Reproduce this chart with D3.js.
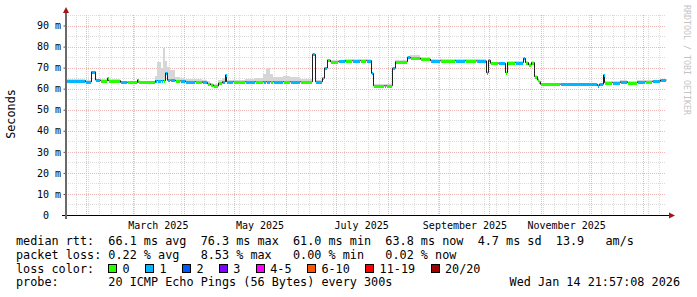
<!DOCTYPE html>
<html>
<head>
<meta charset="utf-8">
<script src="https://cdn.jsdelivr.net/npm/d3@7"></script>
<style>
body { margin: 0; background: #fff; }
svg text { font-family: "DejaVu Sans Mono", monospace; white-space: pre; }
</style>
</head>
<body>
<script>
// time window: 360 days ending at the graph timestamp
var endTime = new Date(Date.UTC(2026, 0, 14, 21, 57, 8));
var spanDays = 360;

// median rtt as steps: day offset (from window start) where each step begins
var dayOffset = [0, 11.4, 15, 17.4, 20.4, 24.6, 25.2, 32.4, 36.6, 42.6, 43.2, 53.4, 54.6, 57, 58.2,
  59.4, 60.6, 62.4, 65.4, 68.4, 71.4, 77.4, 81.6, 84.6, 86.4, 88.2, 91.2, 93.6, 95.4, 96,
  100.2, 107.4, 113.4, 118.2, 120, 122.4, 124.2, 130.2, 134.4, 140.4, 147.6, 149.4, 153.6, 154.8, 156.6,
  158.4, 163.2, 167.4, 171.6, 176.4, 180, 183, 184.2, 190.8, 192, 195.6, 197.4, 204.6, 206.4, 212.4,
  218.4, 224.4, 233.4, 239.4, 246, 252, 253.2, 254.4, 259.2, 263.4, 264.6, 269.4, 274.2, 275.4, 277.2,
  279, 280.8, 282.6, 283.2, 284.4, 296.4, 318.6, 319.8, 322.2, 322.8, 327.6, 332.4, 336.6, 342.6, 347.4,
  351.6, 356.4];
var medianMs = [63.8, 63.2, 68.0, 64.1, 63.8, 65.0, 63.8, 63.0, 63.0, 64.2, 63.0, 63.8, 63.8, 63.8, 63.8,
  67.5, 64.0, 64.0, 63.7, 63.7, 63.3, 63.3, 63.0, 62.3, 61.8, 61.3, 62.7, 63.3, 66.5, 63.3,
  63.3, 63.3, 63.3, 63.3, 63.3, 63.3, 63.3, 63.3, 63.3, 63.3, 76.3, 63.3, 65.0, 69.8, 73.6,
  72.8, 73.0, 73.3, 73.3, 73.3, 73.3, 67.3, 61.4, 61.4, 61.4, 69.7, 72.8, 74.9, 74.5, 74.0,
  73.3, 73.3, 73.3, 73.2, 73.2, 67.6, 73.5, 72.1, 72.1, 67.6, 72.4, 72.4, 74.4, 72.4, 71.3,
  72.4, 65.7, 64.1, 63.3, 62.1, 62.1, 61.5, 62.1, 66.5, 62.9, 62.9, 63.3, 62.9, 63.3, 63.3,
  63.5, 64.1];
// pings lost out of 20
var lostPings = [1, 1, 1, 1, 0, 0, 0, 1, 0, 0, 0, 1, 1, 1, 0,
  1, 1, 1, 0, 1, 1, 0, 1, 0, 0, 0, 0, 1, 1, 1,
  0, 1, 0, 1, 1, 0, 1, 0, 1, 0, 1, 1, 0, 1, 0,
  0, 1, 0, 1, 0, 1, 1, 0, 1, 0, 1, 0, 1, 0, 0,
  1, 0, 1, 0, 1, 1, 1, 0, 1, 0, 0, 1, 1, 0, 0,
  0, 0, 0, 0, 0, 1, 1, 1, 1, 0, 1, 1, 0, 1, 0,
  1, 1];
// top of the smoke (slowest pings)
var smokeTopMs = [64.5, 64.0, 68.5, 64.8, 64.5, 65.5, 64.5, 63.8, 63.8, 64.8, 63.8, 66.0, 72.8, 70.0, 79.3,
  73.0, 70.4, 68.9, 65.5, 65.0, 64.6, 64.6, 64.2, 63.5, 62.8, 62.3, 64.0, 65.0, 67.0, 64.2,
  64.2, 64.5, 65.0, 67.0, 69.7, 67.0, 65.7, 66.0, 65.7, 64.5, 76.8, 64.2, 65.5, 70.3, 74.2,
  73.6, 73.8, 74.0, 74.2, 74.0, 74.0, 68.0, 62.2, 62.2, 62.2, 70.3, 73.6, 75.6, 75.8, 75.2,
  74.2, 74.0, 74.2, 74.0, 74.0, 68.2, 74.2, 72.9, 72.9, 68.2, 73.2, 73.2, 75.0, 73.2, 72.0,
  73.2, 66.3, 64.8, 64.0, 62.8, 62.8, 62.2, 62.8, 67.0, 63.6, 63.6, 64.0, 63.6, 64.0, 64.0,
  64.2, 64.8];

var yTicks = [0, 10, 20, 30, 40, 50, 60, 70, 80, 90];
var yTickLabels = ["0  ", "10 m", "20 m", "30 m", "40 m", "50 m", "60 m", "70 m", "80 m", "90 m"];
var xTickDates = ["2025-03-16", "2025-05-16", "2025-07-16", "2025-09-16", "2025-11-16"];
var xTickLabels = ["March 2025", "May 2025", "July 2025", "September 2025", "November 2025"];

var lossNames = ["0", "1", "2", "3", "4-5", "6-10", "11-19", "20/20"];
var lossUpper = [0, 1, 2, 3, 5, 10, 19, 20];
var lossColors = ["#26ff00", "#00b8ff", "#0059ff", "#7e00ff", "#ff00ff", "#ff5500", "#ff0000", "#a00000"];

var legendRows = [
  "median rtt:  66.1 ms avg  76.3 ms max  61.0 ms min  63.8 ms now  4.7 ms sd  13.9   am/s",
  "packet loss: 0.22 % avg   8.53 % max   0.00 % min   0.02 % now",
  "loss color:",
  "probe:       20 ICMP Echo Pings (56 Bytes) every 300s"
];
var stampText = "Wed Jan 14 21:57:08 2026";

var width = 697, height = 297;
var plotLeft = 66, plotRight = 666, plotTop = 15, plotBottom = 215;
var charW = 7.1;

var startTime = new Date(endTime.getTime() - spanDays * 864e5);
var svg = d3.select("body").append("svg").attr("width", width).attr("height", height);

var x = d3.scaleUtc().domain([startTime, endTime]).range([plotLeft, plotRight]);
var y = d3.scaleLinear().domain([0, 95]).range([plotBottom, plotTop]);

var data = dayOffset.map((d, i) => ({
  t: new Date(startTime.getTime() + d * 864e5),
  v: medianMs[i],
  loss: lostPings[i],
  hi: smokeTopMs[i]
}));
data.forEach((d, i) => d.t1 = i < data.length - 1 ? data[i + 1].t : endTime);

// grid
var grid = svg.append("g");
function px(v) { return Math.round(v) + 0.5; }
grid.selectAll(".hmin").data(d3.range(5, 96, 5).filter(v => v % 10 != 0)).enter().append("line")
  .attr("x1", plotLeft).attr("x2", plotRight).attr("y1", d => px(y(d))).attr("y2", d => px(y(d)))
  .attr("stroke", "#dcdcdc").attr("stroke-dasharray", "1,1");
grid.selectAll(".vmin").data(d3.utcSunday.range(startTime, endTime)).enter().append("line")
  .attr("y1", plotTop).attr("y2", plotBottom).attr("x1", d => px(x(d))).attr("x2", d => px(x(d)))
  .attr("stroke", "#dcdcdc").attr("stroke-dasharray", "1,1");
grid.selectAll(".hmaj").data(yTicks.slice(1)).enter().append("line")
  .attr("x1", plotLeft).attr("x2", plotRight).attr("y1", d => px(y(d))).attr("y2", d => px(y(d)))
  .attr("stroke", "#ebb6b6").attr("stroke-dasharray", "1,1");
grid.selectAll(".vmaj").data(d3.utcMonth.range(startTime, endTime)).enter().append("line")
  .attr("y1", plotTop).attr("y2", plotBottom).attr("x1", d => px(x(d))).attr("x2", d => px(x(d)))
  .attr("stroke", "#ebb6b6").attr("stroke-dasharray", "1,1");

// smoke
svg.append("g").selectAll("rect").data(data).enter().append("rect")
  .attr("x", d => x(d.t)).attr("width", d => Math.max(1, x(d.t1) - x(d.t)))
  .attr("y", d => y(d.hi)).attr("height", d => y(d.v) - y(d.hi))
  .attr("fill", "#d6d6d6").attr("shape-rendering", "crispEdges");

// thin dark median line
var pts = data.concat([{ t: endTime, v: data[data.length - 1].v }]);
svg.append("path")
  .attr("d", d3.line().x(d => Math.round(x(d.t)) + 0.5).y(d => y(d.v)).curve(d3.curveStepAfter)(pts))
  .attr("fill", "none").attr("stroke", "#202020").attr("stroke-width", 1);

// loss coloured median bars
function lossColor(n) {
  for (var k = 0; k < lossUpper.length; k++) if (n <= lossUpper[k]) return lossColors[k];
  return lossColors[lossColors.length - 1];
}
svg.append("g").selectAll("rect").data(data).enter().append("rect")
  .attr("x", d => Math.round(x(d.t)) + 1).attr("width", d => Math.max(1, Math.round(x(d.t1)) - Math.round(x(d.t)) - 1))
  .attr("y", d => Math.round(y(d.v)) - 1).attr("height", 3)
  .attr("fill", d => lossColor(d.loss)).attr("shape-rendering", "crispEdges");

// axes
var yAxis = d3.axisLeft(y).tickValues(yTicks).tickFormat((d, i) => yTickLabels[i]).tickSize(3).tickPadding(2.5);
var gy = svg.append("g").attr("transform", "translate(" + (plotLeft + 0.5) + ",0)").call(yAxis);
gy.select(".domain").remove();
gy.selectAll("line").attr("stroke", "#555");
gy.selectAll("text").attr("font-size", "10px").attr("font-family", "DejaVu Sans Mono").attr("fill", "#000")
  .attr("xml:space", "preserve");

var xAxis = d3.axisBottom(x).tickValues(xTickDates.map(s => new Date(s + "T00:00:00Z")))
  .tickFormat((d, i) => xTickLabels[i]).tickSize(0).tickPadding(7);
var gx = svg.append("g").attr("transform", "translate(0," + plotBottom + ")").call(xAxis);
gx.select(".domain").remove();
gx.selectAll("text").attr("font-size", "10px").attr("font-family", "DejaVu Sans Mono").attr("fill", "#000");

svg.append("line").attr("x1", plotLeft - 4).attr("x2", plotRight + 3).attr("y1", plotBottom + 0.5).attr("y2", plotBottom + 0.5)
  .attr("stroke", "#000");
svg.append("line").attr("x1", plotLeft).attr("x2", plotLeft).attr("y1", 12).attr("y2", plotBottom + 4)
  .attr("stroke", "#6a6a6a").attr("stroke-width", 2);
svg.append("path").attr("d", "M" + (plotLeft - 3) + ",13L" + plotLeft + ",7L" + (plotLeft + 3) + ",13Z").attr("fill", "#a01515");
svg.append("path").attr("d", "M" + (plotRight + 3) + "," + (plotBottom - 2.5) + "L" + (plotRight + 9) + "," + (plotBottom + 0.5) + "L" + (plotRight + 3) + "," + (plotBottom + 3.5) + "Z").attr("fill", "#a01515");

// labels
svg.append("text").attr("transform", "translate(15,114) rotate(-90)").attr("text-anchor", "middle")
  .attr("font-size", "11.8px").text("Seconds");
svg.append("text").attr("transform", "translate(684,5) rotate(90)").attr("text-anchor", "start")
  .attr("font-size", "8.3px").attr("fill", "#c4c4c4").text("RRDTOOL / TOBI OETIKER");

// legend
var rowY = [245, 258.5, 272.5, 286];
svg.append("g").selectAll("text").data(legendRows).enter().append("text")
  .attr("x", 16).attr("y", (d, i) => rowY[i]).attr("font-size", "11.8px").attr("xml:space", "preserve").text(d => d);
svg.append("text").attr("x", 680).attr("y", rowY[3]).attr("text-anchor", "end").attr("font-size", "11.8px").text(stampText);

var lx = 16 + 13 * charW;
lossNames.forEach((name, i) => {
  svg.append("rect").attr("x", lx + 0.5).attr("y", rowY[2] - 8).attr("width", 8).attr("height", 8)
    .attr("fill", lossColors[i]).attr("stroke", "#000").attr("shape-rendering", "crispEdges");
  svg.append("text").attr("x", lx + 14.3).attr("y", rowY[2]).attr("font-size", "11.8px").text(name);
  lx += (name.length + 4.2) * charW;
});
</script>
</body>
</html>
